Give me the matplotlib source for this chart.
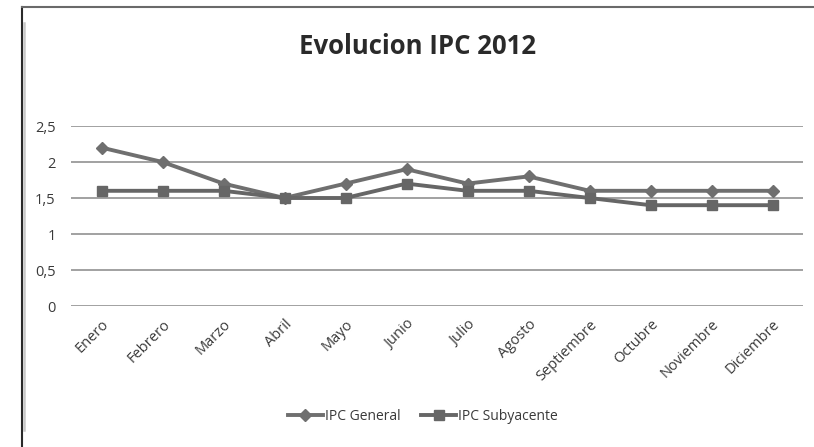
import matplotlib
matplotlib.use("Agg")
import matplotlib.pyplot as plt
from matplotlib.lines import Line2D
from matplotlib.ticker import FuncFormatter

meses = ["Enero", "Febrero", "Marzo", "Abril", "Mayo", "Junio", "Julio",
         "Agosto", "Septiembre", "Octubre", "Noviembre", "Diciembre"]
ipc_general = [2.2, 2.0, 1.7, 1.5, 1.7, 1.9, 1.7, 1.8, 1.6, 1.6, 1.6, 1.6]
ipc_subyacente = [1.6, 1.6, 1.6, 1.5, 1.5, 1.7, 1.6, 1.6, 1.5, 1.4, 1.4, 1.4]
y_ticks = [0, 0.5, 1, 1.5, 2, 2.5]

plt.rcParams["font.family"] = ["Open Sans", "DejaVu Sans"]
text_col = "#3a3a3a"
line_col = "#6f6f6f"

W, H = 814, 447
fig = plt.figure(figsize=(W / 100, H / 100), dpi=100)
ax = fig.add_axes([71 / W, 1 - 306 / H, (803 - 71) / W, (306 - 126) / H])

x = list(range(len(meses)))
ax.plot(x, ipc_general, color=line_col, lw=2.8, marker="D", ms=6.5,
        label="IPC General", zorder=3)
ax.plot(x, ipc_subyacente, color="#666666", lw=2.8, marker="s", ms=7,
        label="IPC Subyacente", zorder=3)

ax.set_xlim(-0.5, len(meses) - 0.5)
ax.set_ylim(0, 2.5)
ax.set_yticks(y_ticks)
ax.yaxis.set_major_formatter(FuncFormatter(lambda v, p: f"{v:g}".replace(".", ",")))
ax.grid(axis="y", color="#9a9a9a", lw=1.3)
ax.set_axisbelow(True)
for s in ax.spines.values():
    s.set_visible(False)
ax.tick_params(axis="y", length=0, pad=11, labelsize=10.5, labelcolor=text_col)
ax.tick_params(axis="x", length=0, pad=8, labelsize=10.5, labelcolor=text_col)
ax.set_xticks(x)
ax.set_xticklabels(meses, rotation=45, ha="right", va="top", rotation_mode="anchor")

fig.text(418 / W, 1 - 47 / H, "Evolucion IPC 2012", ha="center", va="center",
         fontsize=18.5, fontweight="bold", color="#2a2a2a")

handles = [
    Line2D([], [], color=line_col, lw=2.8, marker="D", ms=6),
    Line2D([], [], color="#666666", lw=2.8, marker="s", ms=6.5),
]
fig.legend(handles, ["IPC General", "IPC Subyacente"], loc="center",
           bbox_to_anchor=(423 / W, 1 - 416 / H), ncol=2, frameon=False,
           fontsize=10, handlelength=2.5, handletextpad=0.15, columnspacing=1.5,
           labelcolor=text_col)

# outer frame of the chart area
fig.add_artist(Line2D([22 / W, 22 / W], [0, 1 - 7 / H], color="#2a2a2a", lw=1.5,
                      transform=fig.transFigure))
fig.add_artist(Line2D([22 / W, 1], [1 - 7 / H, 1 - 7 / H], color="#6a6a6a", lw=1.5,
                      transform=fig.transFigure))
fig.add_artist(Line2D([24 / W, 24 / W], [1 - 430 / H, 1 - 23 / H], color="#c8c8c8",
                      lw=1.8, transform=fig.transFigure))

fig.savefig("out.png", dpi=100)
